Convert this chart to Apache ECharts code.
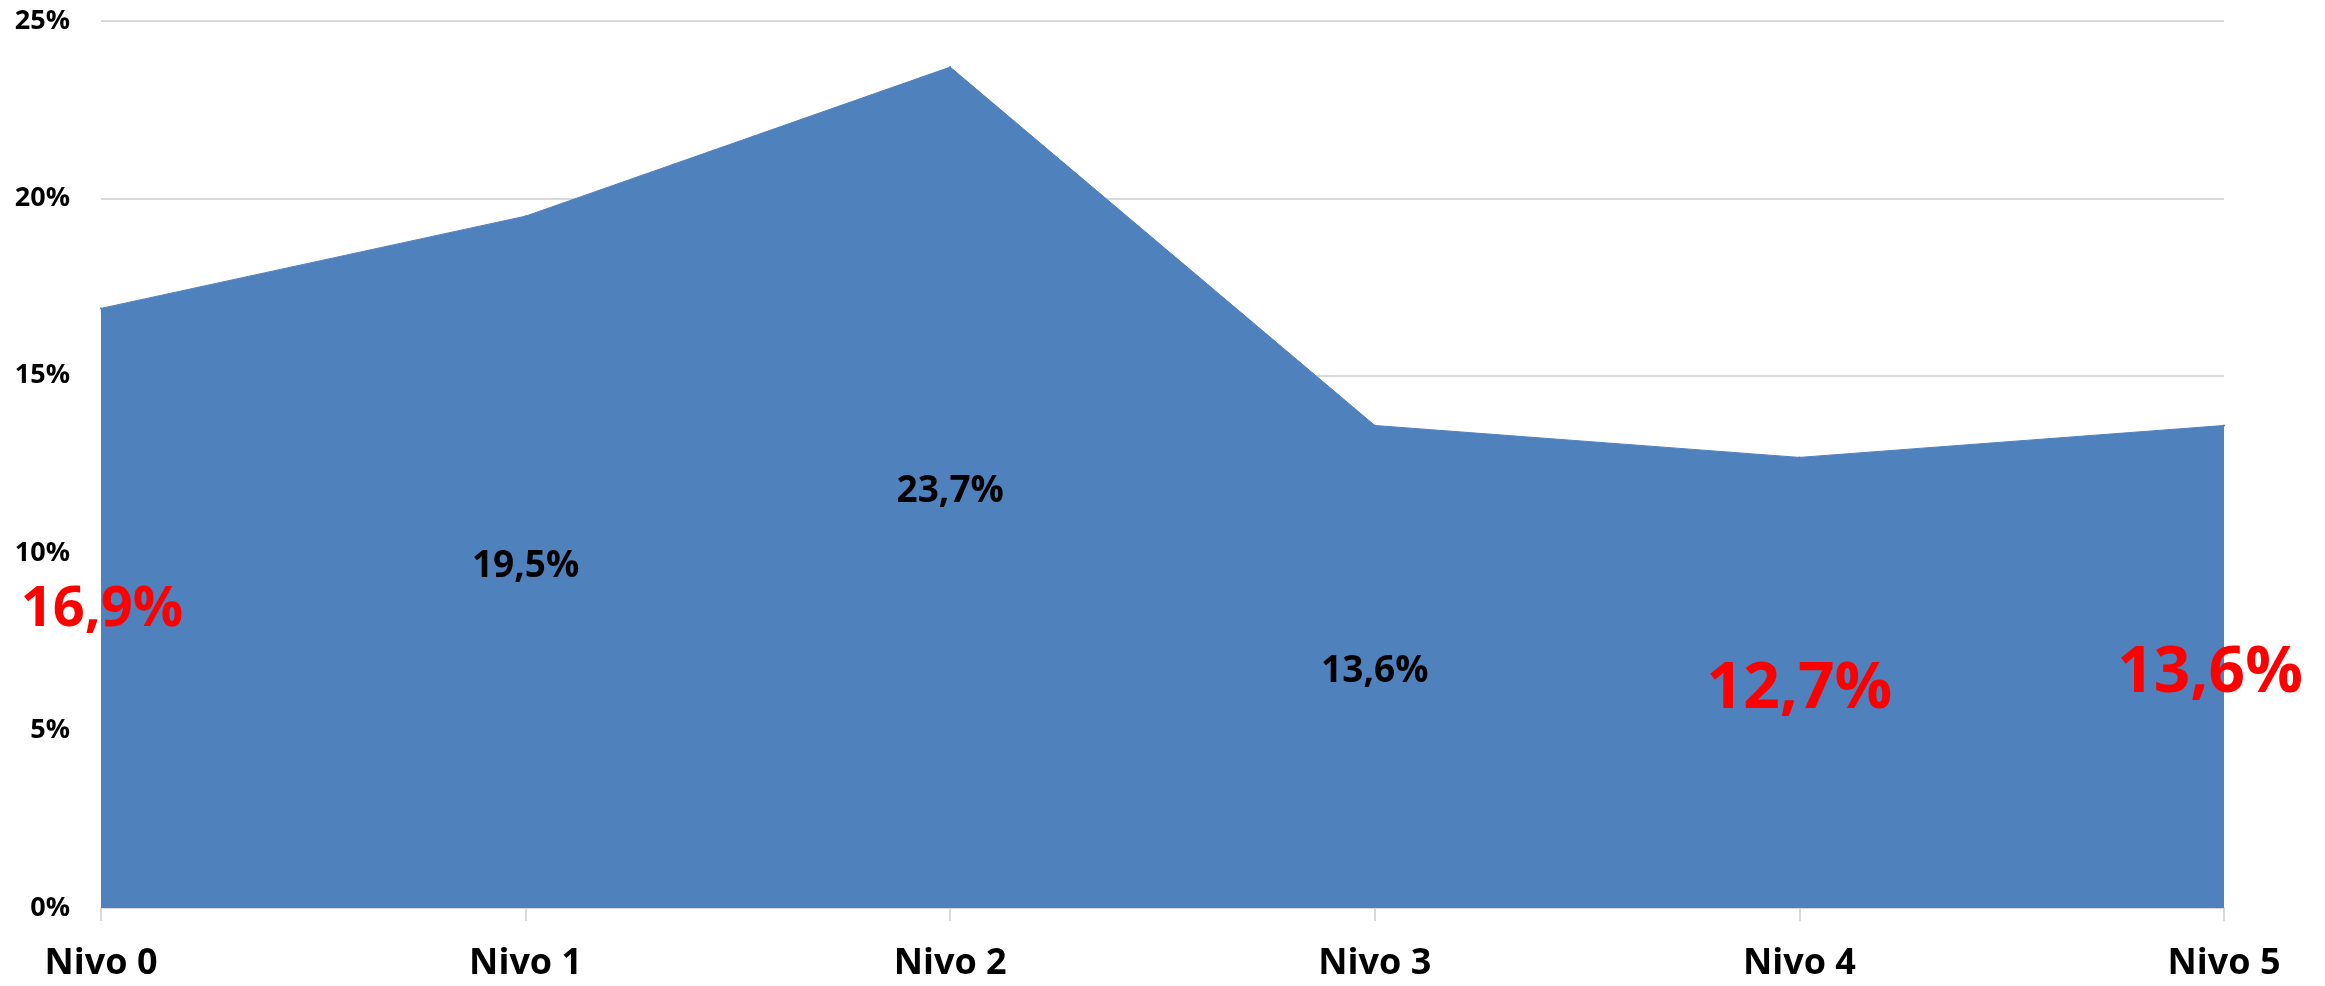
<!DOCTYPE html>
<html>
<head>
<meta charset="utf-8">
<style>
  html, body { margin: 0; padding: 0; background: #ffffff; }
  #chart { width: 2325px; height: 986px; }
</style>
<script src="https://cdn.jsdelivr.net/npm/echarts@6/dist/echarts.min.js"></script>
</head>
<body>
<div id="chart"></div>
<script>
// Share per level (percent)
const categories = ['Nivo 0', 'Nivo 1', 'Nivo 2', 'Nivo 3', 'Nivo 4', 'Nivo 5'];
const values = [16.9, 19.5, 23.7, 13.6, 12.7, 13.6];
const yTicks = { min: 0, max: 25, interval: 5 };

// Label styling per point: colour, size and pixel shift from the line point
const labelStyles = [
  { color: '#ff0000', size: 56, shift: [1, 302] },
  { color: '#000000', size: 37, shift: [0, 350] },
  { color: '#000000', size: 37, shift: [0, 424] },
  { color: '#000000', size: 37, shift: [0, 246] },
  { color: '#ff0000', size: 64, shift: [0, 232] },
  { color: '#ff0000', size: 64, shift: [-14, 248] }
];

const FONT = "'Open Sans', 'Liberation Sans', sans-serif";
const fmt = v => v.toFixed(1).replace('.', ',') + '%';

// Symbols are 2px wide, so their local box runs 0..2 and its centre is at 1
const seriesData = values.map((v, i) => ({
  value: v,
  label: {
    show: true,
    position: [1 + labelStyles[i].shift[0], 1 + labelStyles[i].shift[1]],
    align: 'center',
    verticalAlign: 'middle',
    color: labelStyles[i].color,
    opacity: 1,
    fontSize: labelStyles[i].size,
    fontWeight: 'bold',
    fontFamily: FONT,
    formatter: p => fmt(p.value)
  }
}));

const chart = echarts.init(document.getElementById('chart'), null, { renderer: 'canvas' });
chart.setOption({
  animation: false,
  backgroundColor: '#ffffff',
  grid: { left: 101, right: 101, top: 21, bottom: 78, containLabel: false },
  xAxis: {
    type: 'category',
    data: categories,
    boundaryGap: false,
    axisLine: { show: true, lineStyle: { color: '#d9d9d9', width: 2 } },
    axisTick: { show: true, alignWithLabel: true, length: 13, lineStyle: { color: '#d9d9d9', width: 2 } },
    axisLabel: { color: '#000000', fontSize: 36, fontWeight: 'bold', fontFamily: FONT, margin: 38 }
  },
  yAxis: {
    type: 'value',
    min: yTicks.min,
    max: yTicks.max,
    interval: yTicks.interval,
    axisLine: { show: false },
    axisTick: { show: false },
    splitLine: { show: true, lineStyle: { color: '#d9d9d9', width: 2 } },
    axisLabel: { color: '#000000', fontSize: 27, fontWeight: 'bold', fontFamily: FONT, margin: 31, formatter: '{value}%' }
  },
  series: [{
    type: 'line',
    data: seriesData,
    showSymbol: true,
    symbol: 'circle',
    symbolSize: 2,
    lineStyle: { color: '#4f81bd', width: 1 },
    itemStyle: { color: '#4f81bd', borderWidth: 0 },
    areaStyle: { color: '#4f81bd', opacity: 1 },
    labelLayout: { hideOverlap: false },
    z: 3
  }]
});
</script>
</body>
</html>
